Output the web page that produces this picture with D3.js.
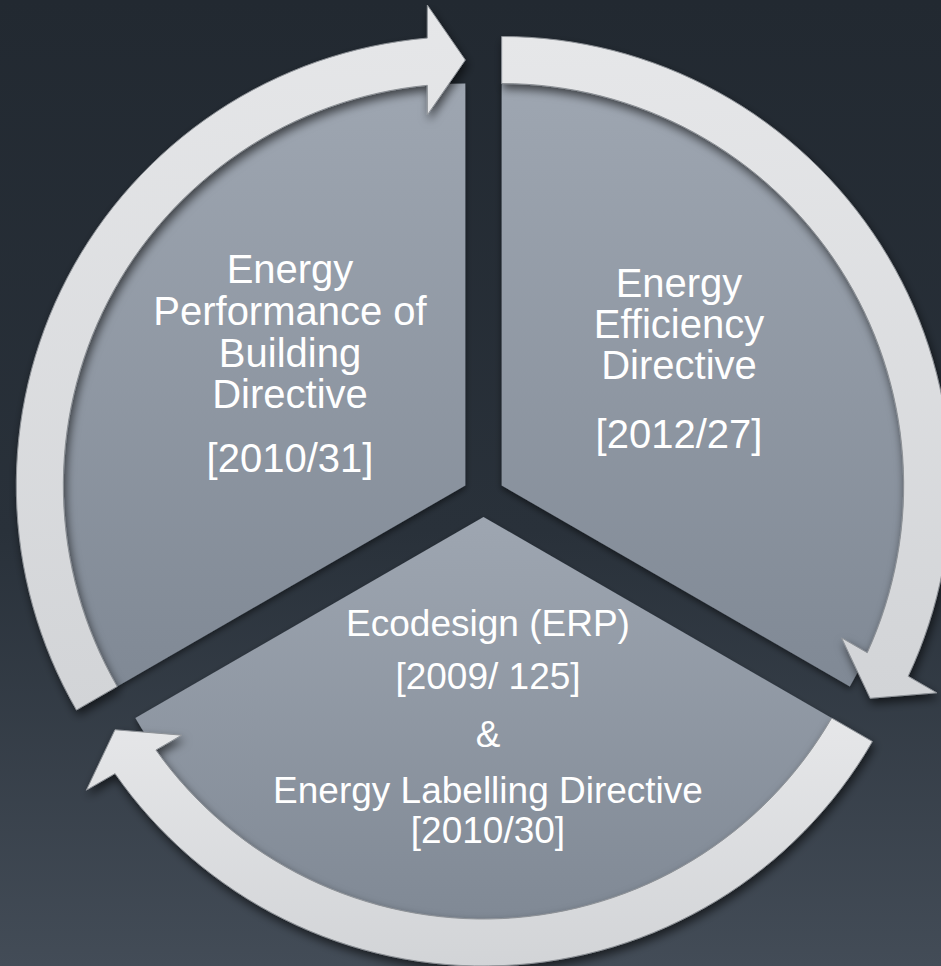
<!DOCTYPE html>
<html>
<head>
<meta charset="utf-8">
<script src="https://cdn.jsdelivr.net/npm/d3@7"></script>
<style>
  html, body { margin: 0; padding: 0; background: #232a32; }
  svg { display: block; }
  .label { font-family: "Liberation Sans", Arial, sans-serif; fill: #ffffff; text-anchor: middle; }
</style>
</head>
<body>
<div id="chart"></div>
<script>
// segments in clockwise order, starting at 12 o'clock
var segments = ["Energy Efficiency Directive", "Ecodesign & Energy Labelling", "Energy Performance of Building Directive"];
var weights = [1, 1, 1];

// text lines for each segment
var efficiencyLines = ["Energy", "Efficiency", "Directive", "[2012/27]"];
var ecodesignLines = ["Ecodesign (ERP)", "[2009/ 125]", "&", "Energy Labelling Directive", "[2010/30]"];
var performanceLines = ["Energy", "Performance of", "Building", "Directive", "[2010/31]"];
var segmentLines = [efficiencyLines, ecodesignLines, performanceLines];

var svgWidth = 941;
var svgHeight = 966;

var center = { x: 483.5, y: 496 };
var explode = 21;
var pieRadius = 402;
var ringInner = 402;
var ringOuter = 449;
var headHalf = 55;
var headLength = 38;

// text layout: x, baselines (relative to page), font size
var textLayout = [
  { x: 679, size: 40, y: [297, 338, 379, 448] },
  { x: 488, size: 37, y: [636, 689, 747, 803, 843] },
  { x: 290, size: 40, y: [283, 325, 367, 408, 472] }
];

var svg = d3.select("#chart")
  .append("svg")
  .attr("width", svgWidth)
  .attr("height", svgHeight);

var defs = svg.append("defs");

// background gradient
var bg = defs.append("linearGradient")
  .attr("id", "bg")
  .attr("x1", 0).attr("y1", 0).attr("x2", 0).attr("y2", 1);
bg.append("stop").attr("offset", "0%").attr("stop-color", "#222931");
bg.append("stop").attr("offset", "55%").attr("stop-color", "#29313a");
bg.append("stop").attr("offset", "100%").attr("stop-color", "#434c57");

// slice gradient (lighter at the top)
var sliceGrad = defs.append("linearGradient")
  .attr("id", "slice")
  .attr("x1", 0).attr("y1", 0).attr("x2", 0).attr("y2", 1);
sliceGrad.append("stop").attr("offset", "0%").attr("stop-color", "#9ea6b1");
sliceGrad.append("stop").attr("offset", "100%").attr("stop-color", "#808995");

// arrow gradient
var arrowGrad = defs.append("linearGradient")
  .attr("id", "arrowFill")
  .attr("x1", 0).attr("y1", 0).attr("x2", 0).attr("y2", 1);
arrowGrad.append("stop").attr("offset", "0%").attr("stop-color", "#e6e7e9");
arrowGrad.append("stop").attr("offset", "100%").attr("stop-color", "#d2d4d7");

// shadows
var shadow = defs.append("filter")
  .attr("id", "shadow")
  .attr("x", "-20%").attr("y", "-20%")
  .attr("width", "140%").attr("height", "140%");
shadow.append("feDropShadow")
  .attr("dx", 2).attr("dy", 5)
  .attr("stdDeviation", 5)
  .attr("flood-color", "#000")
  .attr("flood-opacity", 0.6);

var sliceShadow = defs.append("filter")
  .attr("id", "sliceShadow")
  .attr("x", "-20%").attr("y", "-20%")
  .attr("width", "140%").attr("height", "140%");
sliceShadow.append("feDropShadow")
  .attr("dx", 0).attr("dy", 3)
  .attr("stdDeviation", 3)
  .attr("flood-color", "#000")
  .attr("flood-opacity", 0.5);

svg.append("rect")
  .attr("width", svgWidth)
  .attr("height", svgHeight)
  .attr("fill", "url(#bg)");

var pie = d3.pie().sort(null).startAngle(0).endAngle(2 * Math.PI);
var arcs = pie(weights);

var arc = d3.arc().innerRadius(0).outerRadius(pieRadius);

// point at radius r, angle a (0 = north, clockwise)
function polar(r, a) {
  return [r * Math.sin(a), -r * Math.cos(a)];
}

// block arc arrow going clockwise from a0 to a1
function arrowPath(a0, a1) {
  var p = d3.path();
  var rm = (ringInner + ringOuter) / 2;
  var n = [Math.sin(a1), -Math.cos(a1)];
  var t = [Math.cos(a1), Math.sin(a1)];
  var tip = [rm * n[0], rm * n[1]];
  var base = [tip[0] - headLength * t[0], tip[1] - headLength * t[1]];
  var endOuter = a1 - Math.asin(headLength / ringOuter);
  var endInner = a1 - Math.asin(headLength / ringInner);

  var s = polar(ringOuter, a0);
  p.moveTo(s[0], s[1]);
  p.arc(0, 0, ringOuter, a0 - Math.PI / 2, endOuter - Math.PI / 2, false);
  p.lineTo(base[0] + (rm + headHalf - rm) * n[0], base[1] + headHalf * n[1]);
  p.lineTo(tip[0], tip[1]);
  p.lineTo(base[0] - headHalf * n[0], base[1] - headHalf * n[1]);
  var e = polar(ringInner, endInner);
  p.lineTo(e[0], e[1]);
  p.arc(0, 0, ringInner, endInner - Math.PI / 2, a0 - Math.PI / 2, true);
  p.closePath();
  return p.toString();
}

var groups = svg.selectAll("g.segment")
  .data(arcs)
  .enter()
  .append("g")
  .attr("class", "segment")
  .attr("transform", function(d) {
    var mid = (d.startAngle + d.endAngle) / 2;
    var o = polar(explode, mid);
    return "translate(" + (center.x + o[0]) + "," + (center.y + o[1]) + ")";
  });

groups.append("path")
  .attr("d", arc)
  .attr("fill", "url(#slice)")
  .attr("filter", "url(#sliceShadow)");

groups.append("path")
  .attr("d", function(d) { return arrowPath(d.startAngle, d.endAngle); })
  .attr("fill", "url(#arrowFill)")
  .attr("stroke", "#8e9297")
  .attr("stroke-width", 1)
  .attr("filter", "url(#shadow)");

// labels
segmentLines.forEach(function(lines, i) {
  var layout = textLayout[i];
  svg.append("g")
    .selectAll("text")
    .data(lines)
    .enter()
    .append("text")
    .attr("class", "label")
    .attr("x", layout.x)
    .attr("y", function(d, j) { return layout.y[j]; })
    .style("font-size", layout.size + "px")
    .text(function(d) { return d; });
});
</script>
</body>
</html>
